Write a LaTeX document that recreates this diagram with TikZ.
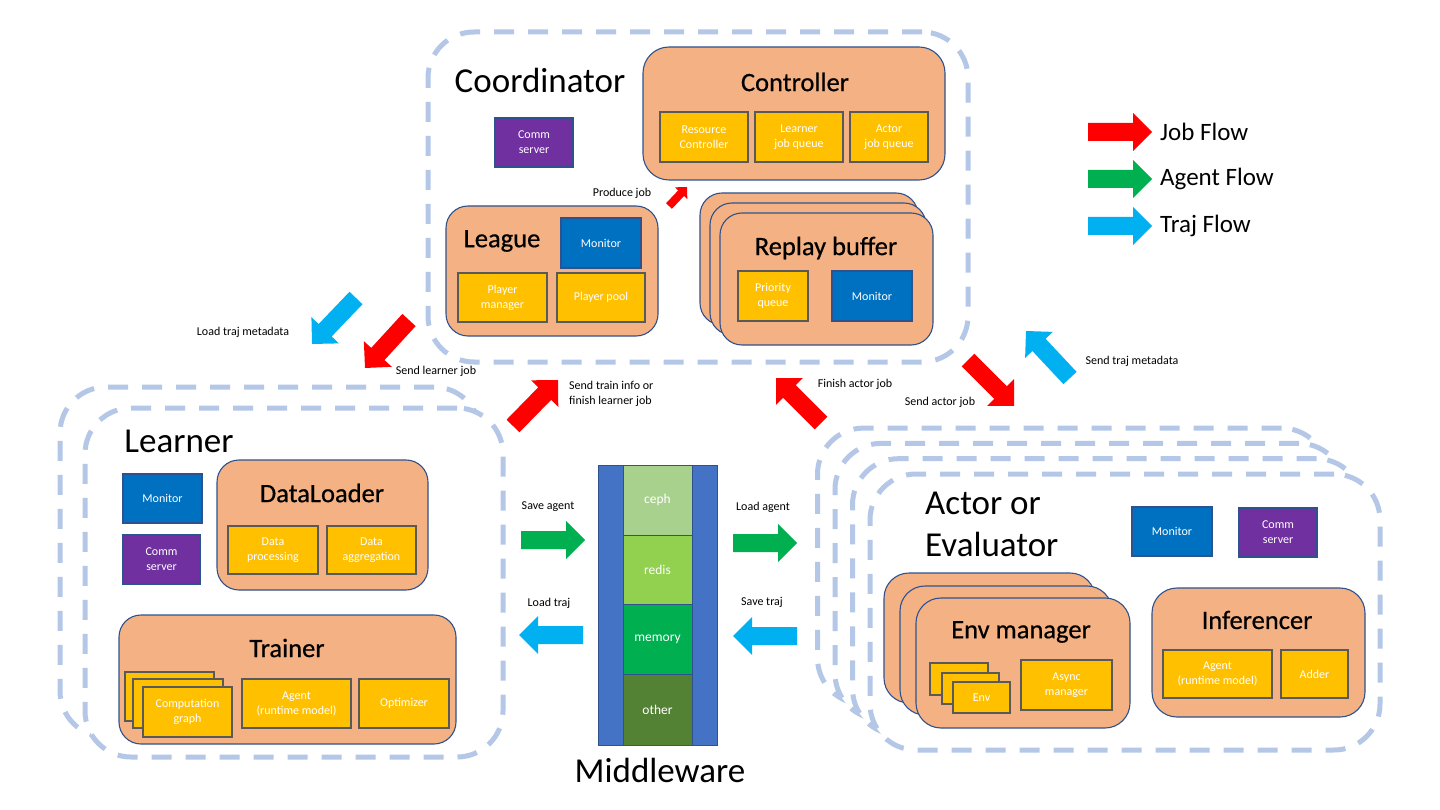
\documentclass[tikz,border=0pt]{standalone}
\usepackage{fontspec}
\setmainfont{Carlito}
\newfontfamily\titlefont{Carlito}[FakeBold=0.6]
\definecolor{dashblue}{HTML}{B4C7E7}
\definecolor{orangef}{HTML}{F4B183}
\definecolor{oline}{HTML}{2F528F}
\definecolor{yellowf}{HTML}{FFC000}
\definecolor{yline}{HTML}{595959}
\definecolor{monblue}{HTML}{0070C0}
\definecolor{commpurple}{HTML}{7030A0}
\definecolor{mwblue}{HTML}{4472C4}
\definecolor{cephc}{HTML}{A9D18E}
\definecolor{redisc}{HTML}{92D050}
\definecolor{memc}{HTML}{00B050}
\definecolor{otherc}{HTML}{548235}
\definecolor{jobred}{HTML}{FF0000}
\definecolor{agentgreen}{HTML}{00B050}
\definecolor{trajblue}{HTML}{00B0F0}
\newcommand{\bigT}{\fontsize{35}{42}\selectfont}
\newcommand{\midT}{\titlefont\fontsize{26.5}{31}\selectfont}
\newcommand{\smallT}{\fontsize{12}{15}\selectfont}
\newcommand{\lblT}{\fontsize{12}{15}\selectfont}
\newcommand{\legT}{\fontsize{25}{30}\selectfont}
\newcommand{\mwT}{\fontsize{13.5}{16}\selectfont}
\newcommand{\blockarr}[6]{%
 \pgfmathsetmacro{\bdx}{#3-#1}%
 \pgfmathsetmacro{\bdy}{#2-#4}%
 \pgfmathsetmacro{\bang}{atan2(\bdy,\bdx)}%
 \pgfmathsetmacro{\blen}{veclen(\bdx,\bdy)/#6}%
 \fill[#5, shift={(#1,#2)}, rotate=\bang, scale=#6] (0,-9) -- ({\blen-19},-9) -- ({\blen-19},-19) -- (\blen,0) -- ({\blen-19},19) -- ({\blen-19},9) -- (0,9) -- cycle;}
% box from corner (x1,y1) to (x2,y2)
\newcommand{\bx}[7]{\node[#2, minimum width={#5-#3}, minimum height={#6-#4}] (#1) at ({(#3+#5)/2},{(#4+#6)/2}) {#7};}
\tikzset{
 dbox/.style={draw=dashblue, line width=5pt, dash pattern=on 20pt off 14pt, rounded corners=46pt, fill=white, inner sep=0pt},
 obox/.style={draw=oline, line width=1.1pt, fill=orangef, rounded corners=22pt, inner sep=0pt},
 ybox/.style={draw=yline, line width=1.4pt, fill=yellowf, inner sep=0pt, text=white, align=center, font=\smallT},
 mbox/.style={draw=oline, line width=1.4pt, fill=monblue, inner sep=0pt, text=white, align=center, font=\smallT},
 cbox/.style={draw=oline, line width=1.4pt, fill=commpurple, inner sep=0pt, text=white, align=center, font=\smallT},
 bigtitle/.style={font=\bigT, inner sep=0pt, align=left},
 midtitle/.style={font=\midT, inner sep=0pt},
 lbl/.style={font=\lblT, inner sep=0pt, align=left},
 legtext/.style={font=\legT, inner sep=0pt, anchor=west},
 mwsec/.style={draw=oline, line width=1pt, inner sep=0pt, text=white, font=\mwT},
}
\begin{document}
\begin{tikzpicture}[x=1pt,y=-1pt]
\useasboundingbox[fill=white] (0,0) rectangle (1440,810);

% ---------------- Coordinator ----------------
\bx{coord}{dbox}{428}{32}{968}{362}{}
\node[bigtitle] (coordT) at (540,80) {Coordinator};
\bx{ccomm}{cbox}{495}{118}{573}{167}{Comm\\server}
\bx{ctrl}{obox, rounded corners=26pt}{643}{47}{945}{180}{}
\node[midtitle] (ctrlT) at (795,82) {Controller};
\bx{rc}{ybox}{660}{112}{748}{162}{Resource\\Controller}
\bx{ljq}{ybox}{755}{112}{843}{162}{Learner\\job queue}
\bx{ajq}{ybox}{850}{112}{928}{162}{Actor\\job queue}

\bx{league}{obox}{446}{206}{658}{336}{}
\node[midtitle] (leagueT) at (502,241) {League};
\bx{lmon}{mbox}{561}{218}{641}{268}{Monitor}
\bx{pm}{ybox}{458}{273}{547}{322}{Player\\manager}
\bx{pp}{ybox}{557}{273}{645}{322}{Player pool}

\node[lbl] (pjl) at (622,193) {Produce job};
\blockarr{669}{206}{687}{187}{jobred}{0.45}

\bx{rb3}{obox}{700}{193}{918}{325}{}
\bx{rb2}{obox}{710}{203}{926}{335}{}
\bx{rb1}{obox}{720}{213}{933}{345}{}
\node[midtitle] (rbT) at (826,248) {Replay buffer};
\bx{pq}{ybox}{738}{271}{808}{321}{Priority\\queue}
\bx{rbmon}{mbox}{832}{271}{912}{321}{Monitor}

% ---------------- Legend ----------------
\blockarr{1088}{132}{1152}{132}{jobred}{1}
\node[legtext] (legjob) at (1160,132) {Job Flow};
\blockarr{1088}{179}{1152}{179}{agentgreen}{1}
\node[legtext] (legagent) at (1160,179) {Agent Flow};
\blockarr{1088}{226}{1152}{226}{trajblue}{1}
\node[legtext] (legtraj) at (1160,226) {Traj Flow};

% ---------------- Learner ----------------
\bx{lrn2}{dbox}{60}{387}{480}{737}{}
\bx{lrn1}{dbox}{85}{408}{503}{757}{}
\node[bigtitle] (lrnT) at (179,441) {Learner};
\bx{lmon2}{mbox}{123}{474}{202}{523}{Monitor}
\bx{lcomm}{cbox}{123}{535}{200}{584}{Comm\\server}
\bx{dl}{obox}{217}{460}{428}{590}{}
\node[midtitle] (dlT) at (322,493) {DataLoader};
\bx{dp}{ybox}{228}{526}{318}{574}{Data\\processing}
\bx{da}{ybox}{327}{526}{416}{574}{Data\\aggregation}
\bx{tr}{obox}{119}{615}{456}{744}{}
\node[midtitle] (trT) at (287,648) {Trainer};
\bx{cg3}{ybox}{125}{672}{214}{721}{}
\bx{cg2}{ybox}{133}{679}{223}{728}{}
\bx{cg1}{ybox}{143}{687}{232}{737}{Computation\\graph}
\bx{lagent}{ybox}{242}{679}{351}{728}{Agent\\(runtime model)}
\bx{opt}{ybox}{359}{679}{449}{728}{Optimizer}

% ---------------- Middleware ----------------
\bx{mw}{draw=oline, line width=1pt, fill=mwblue, inner sep=0pt}{598}{465}{717}{745}{}
\bx{ceph}{mwsec, fill=cephc}{623}{465}{692}{535}{ceph}
\bx{redis}{mwsec, fill=redisc}{623}{535}{692}{604}{redis}
\bx{mem}{mwsec, fill=memc}{623}{604}{692}{674}{memory}
\bx{other}{mwsec, fill=otherc}{623}{674}{692}{745}{other}
\node[bigtitle] (mwT) at (660,770) {Middleware};

\blockarr{521}{540}{585}{540}{agentgreen}{1}
\node[lbl] (saveagent) at (548,507) {Save agent};
\blockarr{583}{635}{519}{635}{trajblue}{1}
\node[lbl] (loadtraj) at (549,603) {Load traj};
\blockarr{733}{543}{797}{543}{agentgreen}{1}
\node[lbl] (loadagent) at (763,507) {Load agent};
\blockarr{797}{636}{733}{636}{trajblue}{1}
\node[lbl] (savetraj) at (762,602) {Save traj};

% ---------------- Actor ----------------
\bx{act3}{dbox}{817.5}{428.1}{1327.5}{704.1}{}
\bx{act2}{dbox}{835}{443.4}{1345}{719.4}{}
\bx{act1}{dbox}{852.5}{458.7}{1362.5}{734.7}{}
\bx{act0}{dbox}{870}{474}{1380}{750}{}
\node[bigtitle, anchor=west] (actT) at (925,524) {Actor or\\Evaluator};
\bx{amon}{mbox}{1132}{507}{1212}{556}{Monitor}
\bx{acomm}{cbox}{1239}{508}{1317}{557}{Comm\\server}
\bx{em3}{obox, rounded corners=25pt}{884}{573}{1095}{703}{}
\bx{em2}{obox, rounded corners=25pt}{900}{586}{1112}{715}{}
\bx{em1}{obox, rounded corners=25pt}{916}{598}{1130}{728}{}
\node[midtitle] (emT) at (1021,632) {Env manager};
\bx{env3}{ybox}{930}{663}{988}{695}{}
\bx{env2}{ybox}{942}{673}{999}{704}{}
\bx{env1}{ybox}{953}{682}{1010}{713}{Env}
\bx{asyncm}{ybox}{1021}{660}{1112}{710}{Async\\manager}
\bx{inf}{obox, rounded corners=25pt}{1152}{588}{1365}{717}{}
\node[midtitle] (infT) at (1257,620) {Inferencer};
\bx{aagent}{ybox}{1163}{650}{1272}{698}{Agent\\(runtime model)}
\bx{adder}{ybox}{1281}{650}{1348}{698}{Adder}

% ---------------- Flow arrows ----------------
\blockarr{356}{298}{312}{344}{trajblue}{1}
\node[lbl] (ltm) at (243,332) {Load traj metadata};
\blockarr{409}{320}{365}{368}{jobred}{1}
\node[lbl] (slj) at (436,371) {Send learner job};
\blockarr{513}{426}{558}{380}{jobred}{1}
\node[lbl, anchor=west] (sti) at (569,394) {Send train info or\\finish learner job};
\blockarr{821}{423}{776}{378}{jobred}{1}
\node[lbl] (faj) at (855,384) {Finish actor job};
\blockarr{968}{360}{1014}{406}{jobred}{1}
\node[lbl] (saj) at (940,402) {Send actor job};
\blockarr{1070}{378}{1026}{331}{trajblue}{1}
\node[lbl] (stm) at (1132,361) {Send traj metadata};
\end{tikzpicture}
\end{document}
